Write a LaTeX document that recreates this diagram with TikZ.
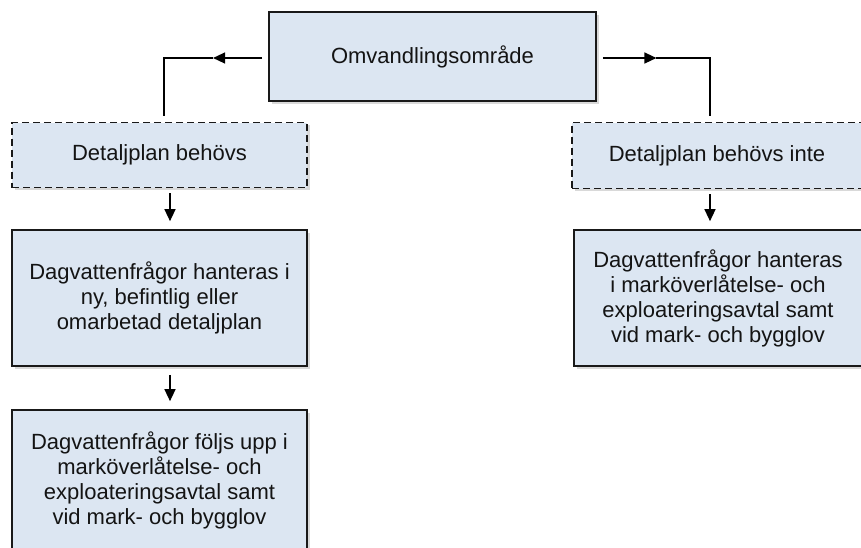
\documentclass[tikz,border=0pt]{standalone}
\usepackage{fontspec}
\setmainfont{Liberation Sans}
\usetikzlibrary{arrows.meta,shadows,calc}
\definecolor{boxfill}{HTML}{DCE6F2}
\definecolor{txt}{HTML}{141414}
\begin{document}
\begin{tikzpicture}[x=1pt,y=-1pt,
  box/.style={draw=black!90, line width=1.7pt, fill=boxfill,
    drop shadow={shadow xshift=2.5pt,shadow yshift=-2.5pt,opacity=0.3},
    align=center, text=txt, font=\fontsize{22}{25}\selectfont, inner sep=0pt},
  dbox/.style={box, dash pattern=on 7pt off 4pt},
  conn/.style={line width=1.4pt},
  arr/.style={conn, -{Triangle[length=12pt,width=11pt]}}]
\useasboundingbox (0,0) rectangle (861,547);

\node[box, minimum width=327pt, minimum height=89pt] (top) at (432.5,56.5) {Omvandlingsområde};

\node[dbox, minimum width=295pt, minimum height=65pt] (dp1) at (159.5,155) {Detaljplan behövs};
\node[box, minimum width=295pt, minimum height=136pt] (b2) at (159.5,298)
  {Dagvattenfrågor hanteras i\\ny, befintlig eller\\omarbetad detaljplan};
\node[box, minimum width=295pt, minimum height=140pt] (b3) at (159.5,480)
  {Dagvattenfrågor följs upp i\\marköverlåtelse- och\\exploateringsavtal samt\\vid mark- och bygglov};

\node[dbox, minimum width=290pt, minimum height=66pt] (dp2) at (717,155.5) {Detaljplan behövs inte};
\node[box, minimum width=288pt, minimum height=136pt] (b4) at (718,298)
  {Dagvattenfrågor hanteras\\i marköverlåtelse- och\\exploateringsavtal samt\\vid mark- och bygglov};

\coordinate (cL) at (164,58);
\coordinate (cR) at (710,58);
\coordinate (dL) at (170,0);

\path ([xshift=-6pt]top.west |- cL) coordinate (sL);
\path ([xshift=6pt]top.east |- cR) coordinate (sR);
\draw[arr] (sL) -- ($(sL)!0.5!(cL)$);
\draw[conn] ($(sL)!0.5!(cL)$) -- (cL) -- ([yshift=6pt]dp1.north -| cL);
\draw[arr] (sR) -- ($(sR)!0.5!(cR)$);
\draw[conn] ($(sR)!0.5!(cR)$) -- (cR) -- ([yshift=6pt]dp2.north -| cR);

\draw[arr, shorten <=5pt, shorten >=8pt] (dp1.south -| dL) -- (b2.north -| dL);
\draw[arr, shorten <=8pt, shorten >=8pt] (b2.south -| dL) -- (b3.north -| dL);
\draw[arr, shorten <=5pt, shorten >=8pt] (dp2.south -| cR) -- (b4.north -| cR);
\end{tikzpicture}
\end{document}
